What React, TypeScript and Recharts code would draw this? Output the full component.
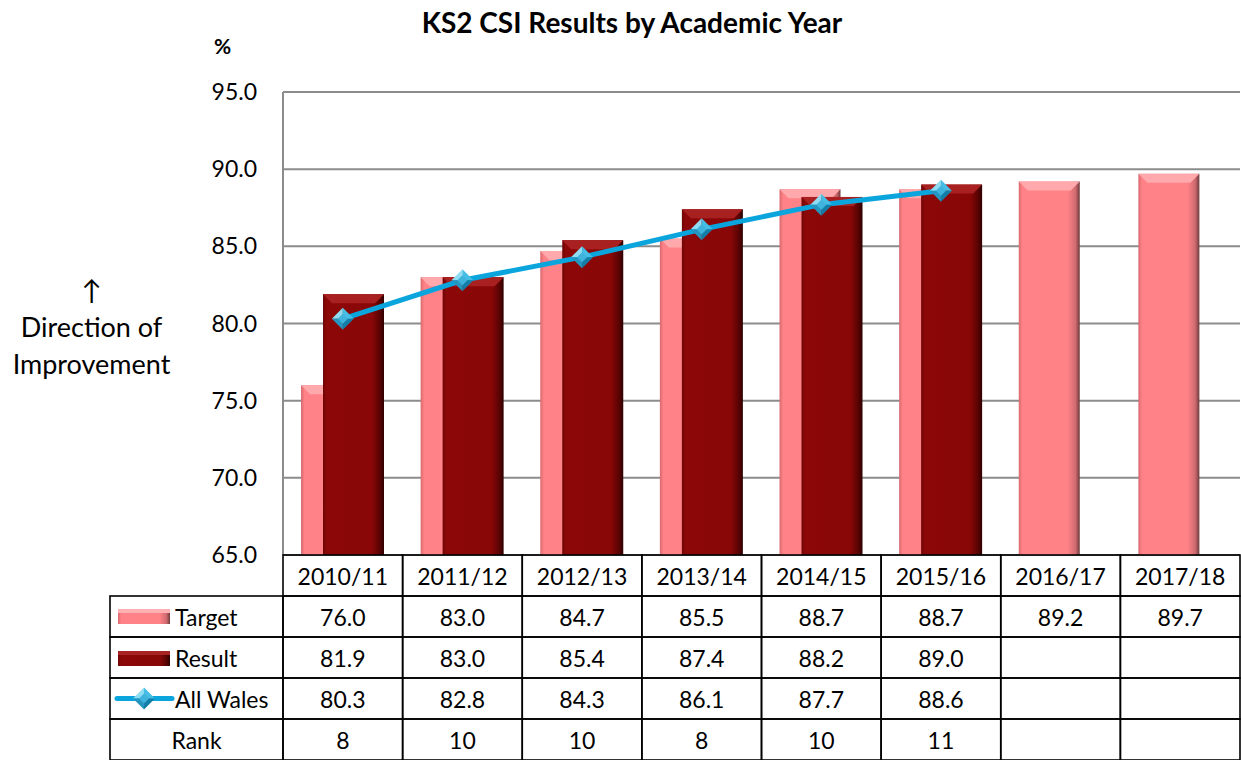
import React from 'react';
import { ComposedChart, Bar, Line, XAxis, YAxis, CartesianGrid } from 'recharts';

const years = ['2010/11', '2011/12', '2012/13', '2013/14', '2014/15', '2015/16', '2016/17', '2017/18'];
const target = [76.0, 83.0, 84.7, 85.5, 88.7, 88.7, 89.2, 89.7];
const result = [81.9, 83.0, 85.4, 87.4, 88.2, 89.0, null, null];
const allWales = [80.3, 82.8, 84.3, 86.1, 87.7, 88.6, null, null];
const rank = [8, 10, 10, 8, 10, 11, null, null];
const yTicks = [65, 70, 75, 80, 85, 90, 95];

const data = years.map((year, i) => ({
  year,
  target: target[i],
  result: result[i],
  allWales: allWales[i],
}));

const W = 1241;
const H = 760;
const LEFT = 283;
const RIGHT = 1240;
const TOP = 92;
const ROW_H = 41;
const XAXIS_H = 205;
const COL_W = (RIGHT - LEFT) / years.length;
const LEGEND_W = 173;
const FONT = 'Lato, "Open Sans", sans-serif';

const fmt = (v: number | null) => (v == null ? '' : v.toFixed(1));

// bevelled bar like the excel 3D preset
const BevelBar = (props: any) => {
  const { x, y, width, height, gradId, bevel } = props;
  if (!height || height <= 0) return null;
  const b = Math.min(9, width / 4, height / 2);
  return (
    <g>
      <rect x={x} y={y} width={width} height={height} fill={`url(#${gradId})`} />
      <polygon
        points={`${x},${y} ${x + width},${y} ${x + width - b},${y + b} ${x + b},${y + b}`}
        fill={bevel}
      />
    </g>
  );
};

const Diamond = (props: any) => {
  const { cx, cy, value } = props;
  if (value == null || cx == null) return null;
  const r = 11;
  return (
    <g>
      <polygon points={`${cx},${cy - r} ${cx},${cy} ${cx - r},${cy}`} fill="#8fdcf3" />
      <polygon points={`${cx},${cy - r} ${cx + r},${cy} ${cx},${cy}`} fill="#45bde4" />
      <polygon points={`${cx + r},${cy} ${cx},${cy + r} ${cx},${cy}`} fill="#137fa8" />
      <polygon points={`${cx - r},${cy} ${cx},${cy} ${cx},${cy + r}`} fill="#2596c0" />
      <polygon points={`${cx},${cy - 5} ${cx + 5},${cy} ${cx},${cy + 5} ${cx - 5},${cy}`} fill="#3fb3dc" />
    </g>
  );
};

const cell = (x: number, y: number, w: number, key: string) => (
  <rect key={key} x={x} y={y} width={w} height={ROW_H} fill="none" stroke="#000" strokeWidth={1.6} />
);

const TableTick = (props: any) => {
  const { x, y, index, payload } = props;
  const left = x - COL_W / 2;
  const rows = [payload.value, fmt(target[index]), fmt(result[index]), fmt(allWales[index]), rank[index] == null ? '' : String(rank[index])];
  const lx = left - LEGEND_W;
  return (
    <g fontFamily={FONT} fontSize={23} fill="#000">
      {rows.map((t, r) => (
        <g key={r}>
          {cell(left, y + r * ROW_H, COL_W, 'c' + r)}
          <text x={x} y={y + r * ROW_H + ROW_H / 2} textAnchor="middle" dominantBaseline="central">
            {t}
          </text>
        </g>
      ))}
      {index === 0 && (
        <g>
          {[1, 2, 3, 4].map((r) => cell(lx, y + r * ROW_H, LEGEND_W, 'l' + r))}
          <rect x={lx + 8} y={y + ROW_H + 13} width={52} height={15} fill="url(#gTarget)" />
          <rect x={lx + 8} y={y + ROW_H + 13} width={52} height={4} fill="#ffb0b2" />
          <text x={lx + 65} y={y + ROW_H * 1.5} dominantBaseline="central">Target</text>
          <rect x={lx + 8} y={y + 2 * ROW_H + 14} width={52} height={15} fill="url(#gResult)" />
          <rect x={lx + 8} y={y + 2 * ROW_H + 14} width={52} height={4} fill="#a82424" />
          <text x={lx + 65} y={y + ROW_H * 2.5} dominantBaseline="central">Result</text>
          <line x1={lx + 7} x2={lx + 62} y1={y + ROW_H * 3.5} y2={y + ROW_H * 3.5} stroke="#0ba5dd" strokeWidth={5} strokeLinecap="round" />
          <Diamond cx={lx + 34} cy={y + ROW_H * 3.5} value={1} />
          <text x={lx + 65} y={y + ROW_H * 3.5} dominantBaseline="central">All Wales</text>
          <text x={lx + LEGEND_W / 2} y={y + ROW_H * 4.5} textAnchor="middle" dominantBaseline="central">Rank</text>
        </g>
      )}
    </g>
  );
};

export default function App() {
  return (
    <div style={{ position: 'relative', width: W, height: H, background: '#fff', fontFamily: FONT }}>
      <style>{'body{margin:0}'}</style>
      <div style={{ position: 'absolute', left: 0, width: 1264, top: 8, textAlign: 'center', fontWeight: 700, fontSize: 28, lineHeight: '28px' }}>
        KS2 CSI Results by Academic Year
      </div>
      <div style={{ position: 'absolute', left: 214, top: 33, fontWeight: 700, fontSize: 21 }}>%</div>
      <div style={{ position: 'absolute', left: 0, width: 183, top: 271, textAlign: 'center', fontSize: 27, lineHeight: '37px' }}>
        <div>↑</div>
        <div>Direction of</div>
        <div>Improvement</div>
      </div>
      <ComposedChart
        width={W}
        height={H}
        data={data}
        margin={{ top: TOP, right: W - RIGHT, bottom: 0, left: 0 }}
        barSize={61}
        barGap={-39}
        style={{ position: 'absolute', left: 0, top: 0 }}
      >
        <defs>
          <linearGradient id="gTarget" x1="0" y1="0" x2="1" y2="0">
            <stop offset="0" stopColor="#d86a6f" />
            <stop offset="0.06" stopColor="#ff8288" />
            <stop offset="0.8" stopColor="#ff8287" />
            <stop offset="0.93" stopColor="#d06b70" />
            <stop offset="1" stopColor="#6e3a3c" />
          </linearGradient>
          <linearGradient id="gResult" x1="0" y1="0" x2="1" y2="0">
            <stop offset="0" stopColor="#6e0505" />
            <stop offset="0.06" stopColor="#8c0808" />
            <stop offset="0.8" stopColor="#8a0707" />
            <stop offset="0.93" stopColor="#5a0303" />
            <stop offset="1" stopColor="#2e0000" />
          </linearGradient>
        </defs>
        <CartesianGrid vertical={false} stroke="#8c8c8c" strokeWidth={2} />
        <XAxis
          dataKey="year"
          interval={0}
          height={XAXIS_H}
          tickSize={0}
          tickMargin={0}
          tickLine={false}
          axisLine={false}
          tick={<TableTick />}
        />
        <YAxis
          domain={[65, 95]}
          ticks={yTicks}
          width={LEFT}
          tickSize={0}
          tickMargin={26}
          tickLine={false}
          axisLine={{ stroke: '#8c8c8c', strokeWidth: 2 }}
          tickFormatter={(v) => v.toFixed(1)}
          tick={{ fill: '#000', fontSize: 23, fontFamily: FONT }}
        />
        <Bar dataKey="target" isAnimationActive={false} shape={<BevelBar gradId="gTarget" bevel="#ffa9ac" />} />
        <Bar dataKey="result" isAnimationActive={false} shape={<BevelBar gradId="gResult" bevel="#a82020" />} />
        <Line
          dataKey="allWales"
          stroke="#0ba5dd"
          strokeWidth={5}
          dot={<Diamond />}
          activeDot={false}
          isAnimationActive={false}
        />
      </ComposedChart>
    </div>
  );
}
